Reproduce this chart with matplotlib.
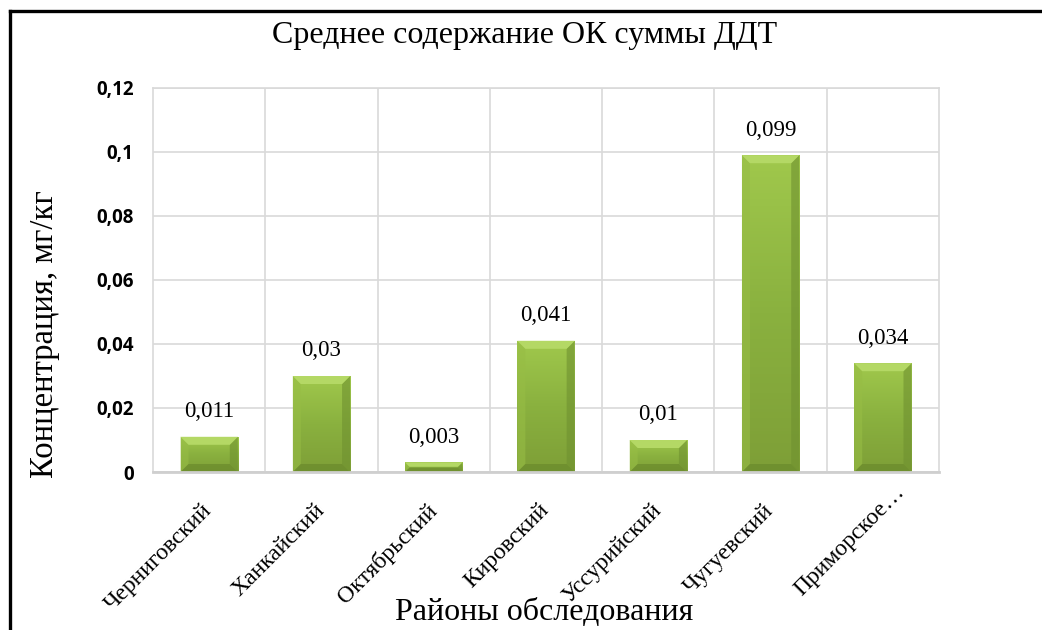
import numpy as np
import matplotlib
matplotlib.use("Agg")
import matplotlib.pyplot as plt
from matplotlib.patches import Polygon
from matplotlib.lines import Line2D
from matplotlib.colors import LinearSegmentedColormap

districts = ["Черниговский", "Ханкайский", "Октябрьский", "Кировский",
             "Уссурийский", "Чугуевский", "Приморское…"]
values = [0.011, 0.03, 0.003, 0.041, 0.01, 0.099, 0.034]
value_labels = ["0,011", "0,03", "0,003", "0,041", "0,01", "0,099", "0,034"]
y_ticks = [0, 0.02, 0.04, 0.06, 0.08, 0.1, 0.12]
y_tick_labels = ["0", "0,02", "0,04", "0,06", "0,08", "0,1", "0,12"]

title = "Среднее содержание ОК суммы ДДТ"
x_title = "Районы обследования"
y_title = "Концентрация, мг/кг"

W, H, DPI = 1042, 630, 100
fig = plt.figure(figsize=(W / DPI, H / DPI), dpi=DPI)
fig.patch.set_facecolor("white")

ax_l, ax_r, ax_t, ax_b = 153, 939, 88, 472
ax = fig.add_axes([ax_l / W, 1 - ax_b / H, (ax_r - ax_l) / W, (ax_b - ax_t) / H])

n = len(districts)
x = np.arange(n)
bar_w = 0.51
ax.set_xlim(-0.5, n - 0.5)
ax.set_ylim(0, 0.12)

# grid: horizontal at ticks, vertical between categories
ax.set_yticks(y_ticks)
ax.set_yticklabels(y_tick_labels, fontfamily="Open Sans", fontweight="bold",
                   fontsize=13.5, color="black")
ax.set_xticks(x)
ax.set_xticklabels([])
ax.tick_params(axis="both", length=0)
ax.tick_params(axis="y", pad=14)
ax.yaxis.grid(True, color="#d9d9d9", lw=1.2)
for b in np.arange(0.5, n - 0.5, 1.0):
    ax.axvline(b, color="#d9d9d9", lw=1.2, zorder=0.5)
ax.set_axisbelow(True)
for s in ax.spines.values():
    s.set_color("#d9d9d9")
    s.set_linewidth(1.2)
ax.spines["bottom"].set_color("#cfcfcf")
ax.spines["bottom"].set_linewidth(2)

# px -> data conversion for the bevel width
px_x = n / (ax_r - ax_l)
px_y = 0.12 / (ax_b - ax_t)

body_cmap = LinearSegmentedColormap.from_list("body", ["#a0c84c", "#8ab13f", "#7e9f37"])
bars = ax.bar(x, values, width=bar_w, color="#8db43e", linewidth=0, zorder=2)
for rect, v in zip(bars, values):
    x0 = rect.get_x()
    x1 = x0 + rect.get_width()
    # vertical body gradient
    grad = np.linspace(0, 1, 100).reshape(-1, 1)
    im = ax.imshow(grad, cmap=body_cmap, aspect="auto",
                   extent=(x0, x1, 0, v), origin="upper", zorder=2.1)
    im.set_clip_path(rect)
    d = min(8, v / px_y / 2.2)
    dx, dy = d * px_x, d * px_y
    top = Polygon([(x0, v), (x1, v), (x1 - dx, v - dy), (x0 + dx, v - dy)],
                  closed=True, facecolor="#b4d865", edgecolor="none", zorder=2.3)
    left = Polygon([(x0, v), (x0 + dx, v - dy), (x0 + dx, dy), (x0, 0)],
                   closed=True, facecolor="#97bd45", edgecolor="none", zorder=2.2, alpha=0.6)
    right = Polygon([(x1, v), (x1 - dx, v - dy), (x1 - dx, dy), (x1, 0)],
                    closed=True, facecolor="#6f9130", edgecolor="none", zorder=2.2, alpha=0.6)
    bottom = Polygon([(x0, 0), (x1, 0), (x1 - dx, dy), (x0 + dx, dy)],
                     closed=True, facecolor="#6a8a2c", edgecolor="none", zorder=2.3, alpha=0.7)
    for p in (top, left, right, bottom):
        ax.add_patch(p)

for xi, v, lab in zip(x, values, value_labels):
    ax.annotate(lab, (xi, v), xytext=(0, 18), textcoords="offset points",
                ha="center", va="center", fontfamily="Liberation Serif",
                fontsize=16.5, color="black", zorder=4)

# category labels, rotated; a truncated label sits a bit higher
for xi, lab in zip(x, districts):
    offset = (8.5, -6.5) if lab.endswith("…") else (-5.5, -20)
    ax.annotate(lab, (xi, 0), xytext=offset, textcoords="offset points",
                ha="right", va="top", rotation=45, rotation_mode="anchor",
                fontfamily="Liberation Serif", fontsize=17, color="black",
                annotation_clip=False)

fig.text(525 / W, 1 - 35 / H, title, ha="center", va="center",
         fontfamily="Liberation Serif", fontsize=23, color="black")
fig.text(544 / W, 1 - 612 / H, x_title, ha="center", va="center",
         fontfamily="Liberation Serif", fontsize=23, color="black")
fig.text(45 / W, 1 - 334 / H, y_title, ha="center", va="center", rotation=90,
         fontfamily="Liberation Serif", fontsize=23.5, color="black")

# outer frame (left and top edges)
fig.add_artist(Line2D([10 / W, 10 / W], [0, 1 - 11 / H], color="black", lw=2.4,
                      transform=fig.transFigure, solid_capstyle="projecting"))
fig.add_artist(Line2D([10 / W, 1], [1 - 11 / H, 1 - 11 / H], color="black", lw=2.4,
                      transform=fig.transFigure, solid_capstyle="projecting"))

fig.savefig("out.png", dpi=DPI, facecolor="white")
